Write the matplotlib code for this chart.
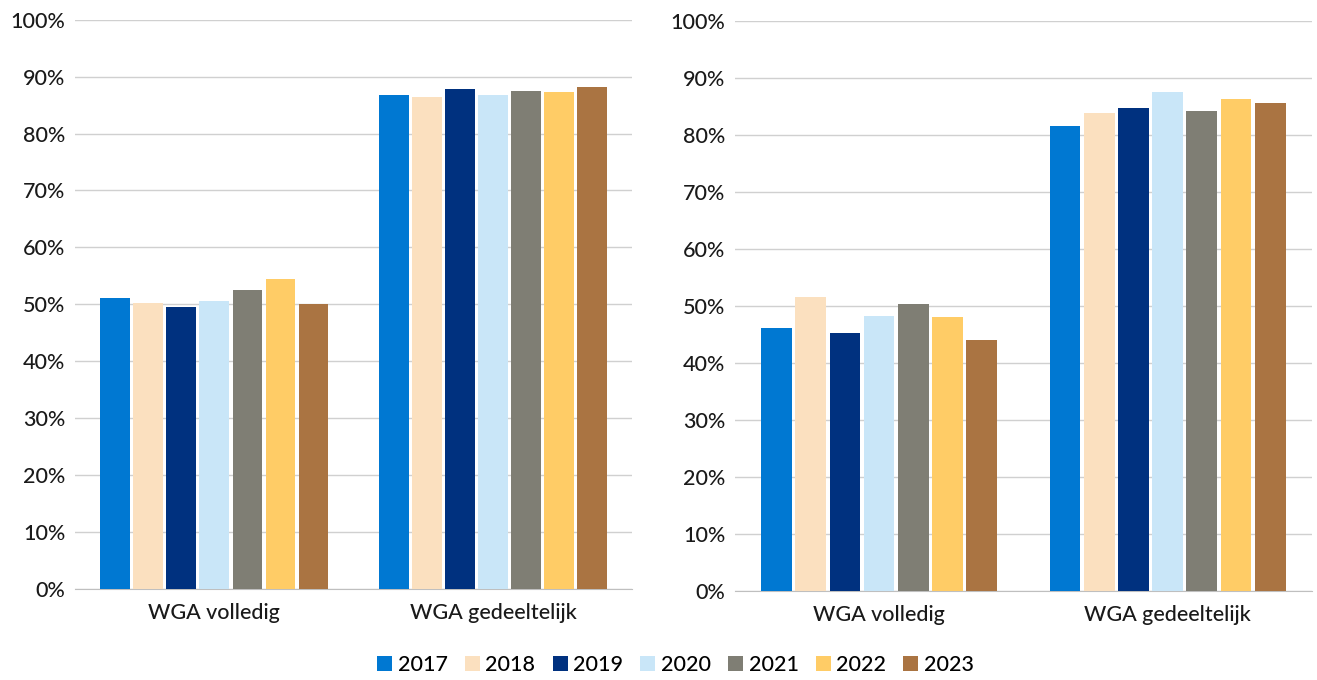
import matplotlib.pyplot as plt
import numpy as np
from matplotlib.ticker import PercentFormatter

categories = ['WGA volledig', 'WGA gedeeltelijk']
years = ['2017', '2018', '2019', '2020', '2021', '2022', '2023']
colors = ['#0078D2', '#FBE0BF', '#00317F', '#C9E6F8', '#7F7E74', '#FFCC66', '#AA7442']

# percentages per year: [volledig, gedeeltelijk]
left_vals = [
    [51.1, 86.8],
    [50.2, 86.5],
    [49.5, 87.8],
    [50.6, 86.7],
    [52.5, 87.4],
    [54.5, 87.3],
    [50.1, 88.2],
]
right_vals = [
    [46.1, 81.6],
    [51.5, 83.9],
    [45.2, 84.7],
    [48.3, 87.6],
    [50.3, 84.3],
    [48.1, 86.3],
    [44.0, 85.7],
]

plt.rcParams['font.family'] = ['Lato', 'DejaVu Sans']
plt.rcParams['font.weight'] = 'medium'

fig = plt.figure(figsize=(13.17, 6.8), dpi=100)
ax1 = fig.add_axes([0.057, 0.134, 0.423, 0.837])
ax2 = fig.add_axes([0.558, 0.131, 0.438, 0.838])

x = np.arange(len(categories))
bw = 0.83 / len(years)

for ax, vals in [(ax1, left_vals), (ax2, right_vals)]:
    for i, (yr, c) in enumerate(zip(years, colors)):
        off = (i - (len(years) - 1) / 2) * bw
        ax.bar(x + off, vals[i], width=bw * 0.9, color=c, label=yr, zorder=3)
    ax.set_xlim(-0.5, 1.5)
    ax.set_ylim(0, 100)
    ax.set_yticks(np.arange(0, 101, 10))
    ax.yaxis.set_major_formatter(PercentFormatter(decimals=0))
    ax.set_xticks(x)
    ax.set_xticklabels(categories)
    ax.grid(axis='y', color='#D0D0D0', linewidth=1, zorder=0)
    for s in ['top', 'right', 'left']:
        ax.spines[s].set_visible(False)
    ax.spines['bottom'].set_color('#BFBFBF')
    ax.tick_params(axis='both', length=0, labelsize=15.5, colors='#1a1a1a', pad=7)
    ax.tick_params(axis='x', pad=10)

handles, labels = ax1.get_legend_handles_labels()
fig.legend(handles, labels, loc='center', bbox_to_anchor=(0.513, 0.022), ncol=7,
           frameon=False, fontsize=15.5, handlelength=0.7, handleheight=0.7,
           handletextpad=0.25, columnspacing=0.8)

plt.savefig('out.png', dpi=100)
